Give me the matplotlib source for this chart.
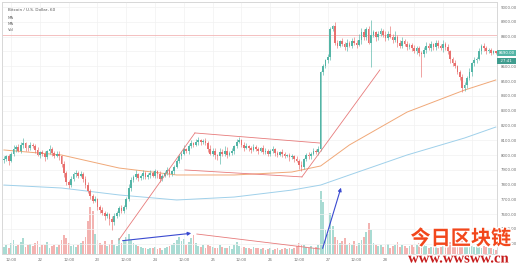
import matplotlib.pyplot as plt
import matplotlib.patheffects as pe
from matplotlib.patches import FancyArrowPatch

# hourly closes (BTC/USD)
first_open = 7965
closes = [
    7975, 7990, 7960, 8010, 8040, 8055, 8030, 8065, 8080, 8050, 8045, 8070,
    8060, 8035, 8000, 8020, 8010, 7985, 8025, 8040, 8015, 7995, 8010, 7990,
    7940, 7880, 7820, 7800, 7835, 7870, 7880, 7860, 7875, 7840, 7800, 7760,
    7720, 7690, 7700, 7650, 7630, 7610, 7590, 7600, 7570, 7550, 7590, 7610,
    7640, 7620, 7650, 7700, 7780, 7830, 7850, 7870, 7845, 7860, 7880, 7850,
    7865, 7880, 7860, 7890, 7870, 7840, 7860, 7880, 7900, 7870, 7890, 7920,
    7960, 7990, 8010, 8040, 8030, 8060, 8080, 8070, 8090, 8100, 8085, 8095,
    8080, 8040, 8010, 8030, 8000, 7990, 8020, 8010, 8030, 8000, 8015, 8030,
    8060, 8090, 8100, 8070, 8050, 8060, 8045, 8035, 8055, 8040, 8030, 8045,
    8020, 8030, 8010, 8025, 8040, 8015, 8000, 8020, 8005, 7995, 8000, 7985,
    7990, 7975, 7960, 7935, 7920, 7970, 8000, 7990, 8010, 8030, 8020, 8040,
    8560, 8600, 8640, 8660, 8850, 8870, 8760, 8740, 8770, 8750, 8730, 8760,
    8740, 8770, 8760, 8745, 8780, 8830, 8800, 8850, 8760, 8810, 8830, 8800,
    8820, 8840, 8810, 8790, 8815, 8800, 8780, 8795, 8760, 8740, 8770, 8750,
    8730, 8745, 8720, 8700, 8720, 8690, 8680, 8710, 8740, 8720, 8750, 8730,
    8760, 8740, 8720, 8750, 8730, 8700, 8650, 8620, 8600, 8560, 8530, 8450,
    8470, 8520, 8560, 8620, 8640, 8650, 8700, 8740, 8720, 8700, 8710, 8690,
    8700, 8690,
]
hi_wick = [
    15, 10, 20, 12, 30, 15, 20, 25, 35, 10, 15, 20,
    10, 15, 20, 10, 15, 20, 10, 25, 15, 10, 20, 15,
    10, 20, 15, 10, 25, 15, 20, 10, 15, 10, 20, 15,
    10, 15, 20, 10, 15, 20, 10, 15, 10, 20, 15, 10,
    15, 20, 10, 15, 25, 20, 15, 30, 10, 15, 20, 10,
    15, 20, 10, 15, 10, 20, 15, 10, 20, 15, 10, 15,
    10, 20, 15, 25, 10, 15, 20, 10, 15, 20, 10, 15,
    20, 15, 30, 20, 15, 10, 25, 20, 30, 25, 15, 20,
    10, 15, 20, 10, 15, 20, 10, 15, 20, 10, 15, 10,
    20, 15, 10, 15, 20, 10, 15, 10, 20, 15, 10, 15,
    15, 10, 20, 15, 25, 10, 15, 20, 10, 15, 10, 20,
    10, 15, 10, 20, 15, 10, 30, 15, 10, 20, 15, 25,
    10, 20, 30, 15, 40, 30, 20, 15, 25, 100, 15, 10,
    20, 15, 10, 25, 20, 60, 20, 40, 15, 20, 25, 15,
    20, 10, 15, 25, 20, 15, 10, 20, 25, 15, 20, 10,
    15, 20, 10, 25, 15, 20, 10, 15, 20, 10, 15, 20,
    20, 15, 25, 10, 20, 15, 20, 10, 15, 20, 10, 15,
    10, 5,
]
lo_wick = [
    20, 15, 25, 10, 15, 20, 10, 15, 20, 25, 15, 10,
    15, 20, 10, 20, 15, 25, 10, 15, 20, 15, 10, 25,
    20, 30, 25, 20, 15, 10, 20, 15, 10, 25, 20, 15,
    20, 15, 10, 25, 20, 15, 30, 15, 40, 60, 20, 15,
    20, 15, 10, 15, 10, 20, 15, 10, 20, 15, 25, 10,
    15, 20, 10, 15, 25, 20, 15, 10, 15, 20, 10, 15,
    10, 15, 20, 10, 15, 20, 10, 15, 10, 20, 15, 10,
    15, 20, 10, 15, 30, 25, 50, 20, 15, 20, 10, 15,
    20, 15, 10, 15, 20, 10, 15, 20, 10, 15, 20, 10,
    15, 10, 20, 15, 10, 20, 15, 10, 20, 15, 10, 25,
    15, 20, 10, 30, 25, 15, 10, 15, 20, 10, 15, 20,
    10, 20, 10, 15, 20, 10, 15, 20, 10, 15, 20, 30,
    10, 20, 15, 20, 10, 30, 20, 25, 10, 165, 15, 30,
    20, 15, 10, 20, 15, 10, 20, 15, 30, 20, 15, 10,
    20, 15, 20, 10, 15, 20, 150, 15, 20, 10, 15, 20,
    20, 15, 10, 25, 20, 15, 30, 20, 15, 10, 20, 25,
    20, 15, 10, 25, 20, 15, 10, 20, 15, 20, 10, 15,
    10, 10,
]
volumes = [
    9, 12, 8, 14, 18, 10, 12, 15, 20, 9, 11, 13,
    10, 14, 16, 9, 12, 11, 15, 8, 10, 12, 9, 11,
    18, 24, 20, 14, 10, 12, 9, 11, 14, 16, 22, 42,
    60, 55, 26, 18, 14, 12, 16, 10, 13, 18, 12, 10,
    20, 14, 16, 22, 25, 18, 14, 12, 10, 9, 8, 7,
    6, 8, 7, 9, 6, 8, 5, 7, 9, 10, 12, 14,
    18, 22, 16, 19, 12, 15, 20, 24, 14, 10, 9, 12,
    8, 12, 10, 9, 7, 8, 11, 9, 7, 8, 10, 6,
    12, 15, 10, 8, 9, 7, 8, 6, 9, 7, 8, 6,
    7, 5, 6, 8, 5, 6, 7, 5, 6, 8, 6, 7,
    6, 8, 10, 14, 12, 11, 9, 8, 10, 7, 9, 12,
    80, 66, 30, 26, 52, 36, 22, 18, 14, 16, 20, 12,
    14, 12, 16, 10, 14, 18, 22, 28, 40, 30, 14, 12,
    10, 12, 9, 11, 13, 8, 10, 12, 15, 9, 11, 10,
    8, 10, 12, 9, 11, 14, 18, 12, 10, 8, 9, 11,
    10, 8, 9, 12, 10, 13, 15, 12, 14, 16, 22, 26,
    20, 15, 12, 10, 9, 11, 12, 8, 10, 9, 7, 8,
    6, 5,
]

# moving averages (read at a few candles)
ma_idx = [0, 24, 48, 72, 96, 120, 132, 144, 168, 192, 205]
ma_orange = [8034, 8000, 7912, 7865, 7865, 7885, 7926, 8068, 8290, 8439, 8507]
ma_blue = [7797, 7777, 7730, 7696, 7716, 7763, 7797, 7865, 8000, 8115, 8189]

# the last three date labels sit under the watermark in the reference
date_ticks = [3, 15, 27, 39, 51, 63, 75, 87, 99, 111, 123, 135, 147, 159, 171, 183, 195]
date_labels = ["12:00", "22", "12:00", "23", "12:00", "24", "12:00", "25", "12:00",
               "26", "12:00", "27", "12:00", "28", "", "", ""]
price_ticks = list(range(7400, 9001, 100))

# hand drawn trend lines: (index, price) end points
red_lines = [
    ((47.9, 7426), (79.6, 8149)),
    ((79.6, 8149), (131.7, 8081)),
    ((75.4, 7899), (124.2, 7852)),
    ((124.2, 7852), (156.7, 8575)),
    ((80.4, 7466), (131.7, 7365)),
]
blue_arrows = [
    ((48.3, 7419), (79.2, 7473)),
    ((132.5, 7351), (140.8, 7797)),
]
alert_level = 8811
last_price = 8690

UP, DOWN = "#53b5a6", "#e8706e"
UP_VOL, DOWN_VOL = "#a9dbd3", "#f3b3b1"

fig = plt.figure(figsize=(5.16, 2.67), dpi=100)
ax = fig.add_axes([2 / 516, 13 / 267, 495 / 516, 252 / 267])
vax = ax.twinx()
ax.set_zorder(vax.get_zorder() + 1)
ax.patch.set_visible(False)

opens = [first_open] + closes[:-1]
n = len(closes)
idx = list(range(n))

# volume
vcol = [UP_VOL if c >= o else DOWN_VOL for o, c in zip(opens, closes)]
vax.bar(idx, volumes, width=0.75, color=vcol, linewidth=0)
vax.set_ylim(0, 320)
vax.set_yticks([])

# candles
for i, (o, c) in enumerate(zip(opens, closes)):
    col = UP if c >= o else DOWN
    top, bot = max(o, c), min(o, c)
    ax.vlines(i, bot - lo_wick[i], top + hi_wick[i], color=col, linewidth=0.45, zorder=3)
    ax.bar(i, max(top - bot, 3), bottom=bot, width=0.7, color=col, linewidth=0, zorder=4)

ax.plot(ma_idx, ma_orange, color="#f0a878", linewidth=0.7, zorder=2)
ax.plot(ma_idx, ma_blue, color="#9fd0ea", linewidth=0.7, zorder=2)

ax.axhline(alert_level, color="#f2b5b5", linewidth=0.6, zorder=1)
for (x0, y0), (x1, y1) in red_lines:
    ax.plot([x0, x1], [y0, y1], color="#e77b7b", linewidth=0.6, zorder=5)
for (x0, y0), (x1, y1) in blue_arrows:
    ax.add_patch(FancyArrowPatch((x0, y0), (x1, y1), arrowstyle="-|>", mutation_scale=5,
                                 color="#3a4ad0", linewidth=0.8, zorder=6))

ax.set_xlim(-0.8, 205.5)
ax.set_ylim(7331, 9034)
ax.set_xticks(date_ticks)
ax.set_xticklabels(date_labels)
ax.set_yticks(price_ticks)
ax.set_yticklabels([f"{p:.2f}" for p in price_ticks])
ax.yaxis.tick_right()
ax.tick_params(axis="both", length=0, labelsize=2.8, colors="#707070", pad=3)
ax.grid(True, color="#f1f1f1", linewidth=0.5)
ax.set_axisbelow(True)
for a in (ax, vax):
    for s in a.spines.values():
        s.set_color("#d8d8d8")
        s.set_linewidth(0.6)

# last price tags
ax.text(1.003, (last_price - 7331) / (9034 - 7331), f"{last_price:.2f}", transform=ax.transAxes,
        fontsize=2.8, color="white", va="center", ha="left",
        bbox=dict(boxstyle="square,pad=0.3", facecolor="#53b5a6", edgecolor="none"))
ax.text(1.003, (last_price - 55 - 7331) / (9034 - 7331), "  27:41  ", transform=ax.transAxes,
        fontsize=2.8, color="white", va="center", ha="left",
        bbox=dict(boxstyle="square,pad=0.3", facecolor="#3f9c8e", edgecolor="none"))

# legend lines
ax.text(0.012, 0.975, "Bitcoin / U.S. Dollar, 60", transform=ax.transAxes, fontsize=3,
        color="#555555", va="top")
for k, lab in enumerate(["MA", "MA", "Vol"]):
    ax.text(0.012, 0.945 - 0.025 * k, lab, transform=ax.transAxes, fontsize=2.8,
            color="#666666", va="top")

# watermark
halo = [pe.withStroke(linewidth=2, foreground="white")]
fig.text(0.893, 0.108, "今日区块链", fontsize=14.5, fontweight="bold", color="#f2471c",
         family=["Noto Sans CJK SC", "DejaVu Sans"], ha="center", va="center", path_effects=halo)
fig.text(0.888, 0.030, "www.wwsww.cn", fontsize=10.6, fontweight="bold", color="#c71d1d",
         family="Liberation Serif", ha="center", va="center", path_effects=halo)

fig.savefig("out.png", dpi=100)
